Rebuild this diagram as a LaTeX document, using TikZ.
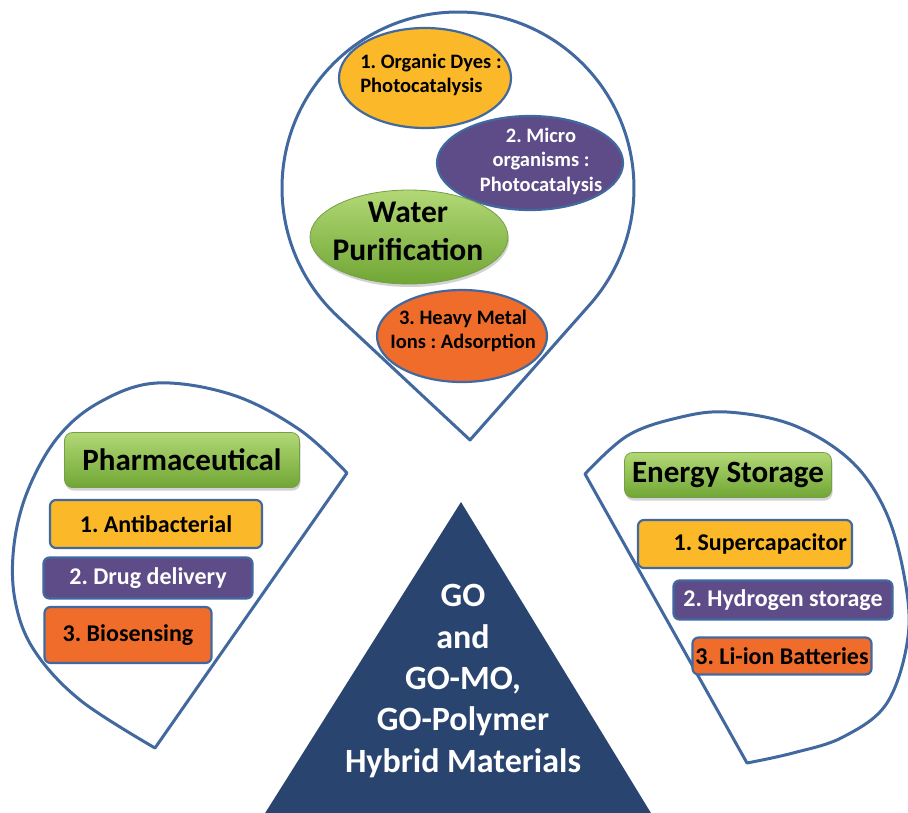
\documentclass[tikz,border=0pt]{standalone}
\usepackage{fontspec}
\setmainfont{Carlito}
\frenchspacing
\usetikzlibrary{shapes.geometric,shadows}
\definecolor{edgeblue}{RGB}{66,104,160}
\definecolor{cyel}{RGB}{251,185,42}
\definecolor{cpur}{RGB}{94,76,136}
\definecolor{corg}{RGB}{240,108,42}
\definecolor{cnavy}{RGB}{42,68,112}
\definecolor{cgrnT}{RGB}{178,216,118}
\definecolor{cgrnB}{RGB}{112,166,52}
\definecolor{cgrnE}{RGB}{118,158,72}
\tikzset{
  outline/.style={draw=edgeblue, line width=3pt, line join=round},
  oval/.style={ellipse, draw=edgeblue, line width=2.2pt, inner sep=0pt},
  smalltxt/.style={font=\fontsize{20.5}{24.5}\selectfont\bfseries, inner sep=0pt},
  bigtxt/.style={font=\fontsize{31.5}{38}\selectfont\bfseries, inner sep=0pt},
  tagfont/.style={font=\fontsize{24}{28}\selectfont\bfseries},
  tag/.style={rectangle, rounded corners=6pt, draw=edgeblue, line width=2.2pt, inner sep=0pt, tagfont},
  greenbox/.style={rectangle, rounded corners=8pt, draw=cgrnE, line width=0.8pt,
    top color=cgrnT, bottom color=cgrnB, inner sep=0pt,
    drop shadow={shadow xshift=1pt, shadow yshift=-3pt, opacity=0.35},
    font=\fontsize{31}{36}\selectfont\bfseries},
}
\begin{document}
\begin{tikzpicture}[x=1pt,y=1pt]
\useasboundingbox (0,0) rectangle (908,-812);
\clip (0,0) rectangle (908,-812);
\fill[white] (0,0) rectangle (908,-812);

% outlines
\draw[outline] (470,-440) -- (589.8,-304.6) arc[start angle=-41.5, end angle=226.96, radius=176] -- cycle;
\draw[outline] plot[smooth, tension=0.6] coordinates {(347,-473) (300,-430) (233,-395) (157,-383) (100,-402) (58,-437) (28,-490) (14,-545) (15,-600) (34,-650) (80,-700) (155,-748)} -- cycle;
\draw[outline] plot[smooth, tension=0.6] coordinates {(585,-474) (627,-436) (677,-418) (727,-412) (793,-425) (850,-460) (885,-510) (904,-575) (908,-637) (887,-703) (843,-737) (793,-753) (747,-763)} -- cycle;

% central triangle
\fill[cnavy] (461,-502) -- (262,-818) -- (654,-818) -- cycle;
\node[text=white, align=center, font=\fontsize{34}{41.3}\selectfont\bfseries] (core) at (463,-681)
  {GO\\and\\GO-MO,\\GO-Polymer\\Hybrid Materials};

% water purification
\node[oval, fill=cyel, minimum width=172pt, minimum height=100pt] (dyes) at (425,-78) {};
\node[smalltxt, align=left] (dyesT) at (431,-75) {1. Organic Dyes :\\Photocatalysis};
\node[oval, fill=cpur, minimum width=186pt, minimum height=94pt] (micro) at (530,-163) {};
\node[smalltxt, align=center, text=white] (microT) at (541,-161) {2. Micro\\organisms :\\Photocatalysis};
\node[oval, draw=cgrnE, line width=0.8pt, top color=cgrnT, bottom color=cgrnB,
  drop shadow={shadow xshift=1pt, shadow yshift=-3pt, opacity=0.35},
  minimum width=198pt, minimum height=94pt] (water) at (409,-237) {};
\node[bigtxt, align=center] (waterT) at (408,-231) {Water\\Purification};
\node[oval, fill=corg, minimum width=170pt, minimum height=92pt] (heavy) at (462,-336) {};
\node[smalltxt, align=center] (heavyT) at (463,-331) {3. Heavy Metal\\Ions : Adsorption};

% pharmaceutical
\node[greenbox, minimum width=235pt, minimum height=55pt] (pharm) at (182,-460) {Pharmaceutical};
\node[tag, fill=cyel, minimum width=212pt, minimum height=48pt] (anti) at (156,-524) {1. Antibacterial};
\node[tag, fill=cpur, text=white, minimum width=209pt, minimum height=41pt] (drug) at (148,-578) {2. Drug delivery};
\node[tag, fill=corg, minimum width=167pt, minimum height=56pt] (bio) at (128,-635) {3. Biosensing};

% energy storage
\node[greenbox, minimum width=207pt, minimum height=45pt] (energy) at (728,-475) {Energy Storage};
\node[tag, fill=cyel, minimum width=214pt, minimum height=48pt] (super) at (745,-544) {};
\node[tagfont, inner sep=0pt, anchor=east] (superT) at ([xshift=-6pt]super.east) {1. Supercapacitor};
\node[tag, fill=cpur, text=white, minimum width=219pt, minimum height=39pt] (hydro) at (783,-600) {2. Hydrogen storage};
\node[tag, fill=corg, minimum width=179pt, minimum height=37pt] (liion) at (782,-656) {3. Li-ion Batteries};
\end{tikzpicture}
\end{document}
